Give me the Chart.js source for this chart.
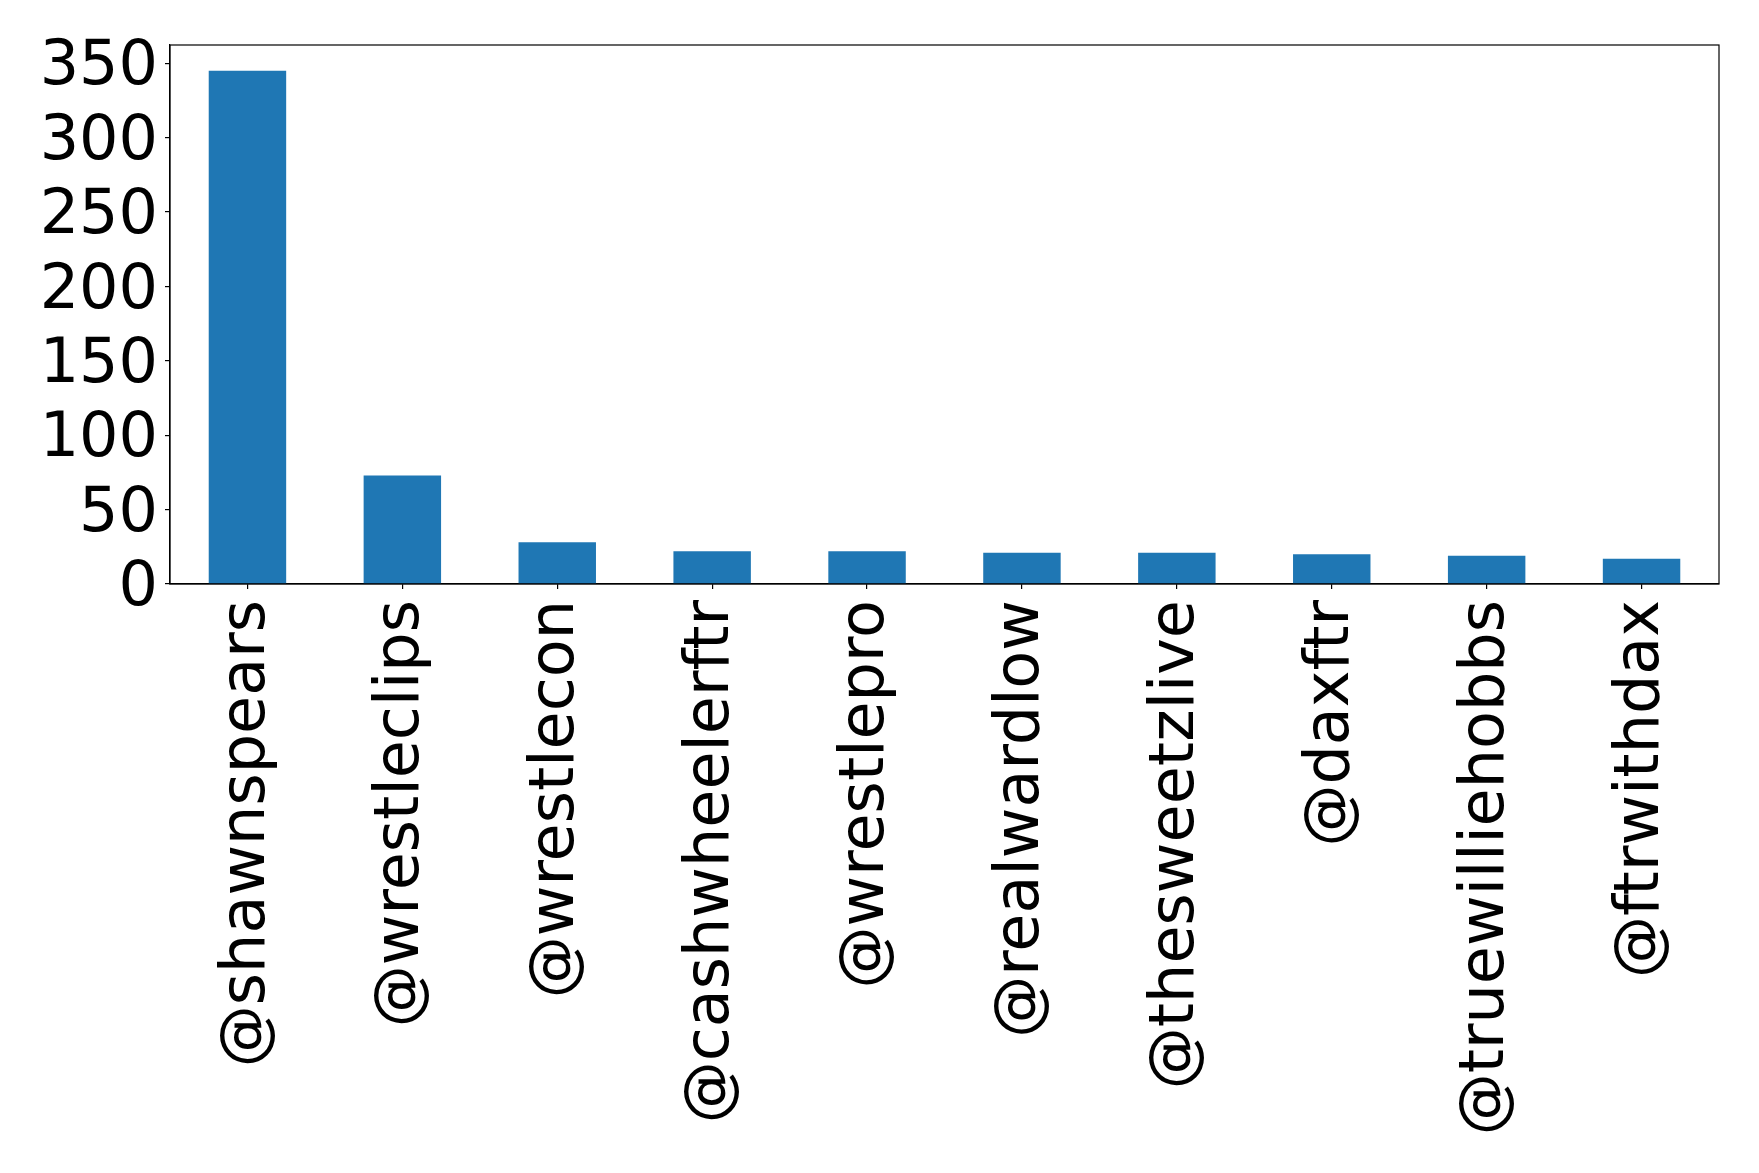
<!DOCTYPE html>
<html>
<head>
<meta charset="utf-8">
<script src="https://cdn.jsdelivr.net/npm/chart.js@4"></script>
<style>
html,body{margin:0;padding:0;background:#fff;}
#wrap{width:1759px;height:1173px;}
</style>
</head>
<body>
<div id="wrap"><canvas id="c" width="1759" height="1173"></canvas></div>
<script>
const categories = ["@shawnspears","@wrestleclips","@wrestlecon","@cashwheelerftr","@wrestlepro","@realwardlow","@thesweetzlive","@daxftr","@truewilliehobbs","@ftrwithdax"];
const counts = [345, 73, 28, 22, 22, 21, 21, 20, 19, 17];
const yTicks = [0, 50, 100, 150, 200, 250, 300, 350];

const boxPlugin = {
  id: 'box',
  afterDraw(chart) {
    const a = chart.chartArea, ctx = chart.ctx;
    ctx.save();
    ctx.strokeStyle = '#000';
    ctx.lineWidth = 1.2;
    ctx.strokeRect(a.left, a.top, a.right - a.left, a.bottom - a.top);
    ctx.restore();
  }
};

new Chart(document.getElementById('c'), {
  type: 'bar',
  data: {
    labels: categories,
    datasets: [{
      data: counts,
      backgroundColor: '#1f77b4',
      borderWidth: 0,
      barPercentage: 0.5,
      categoryPercentage: 1.0
    }]
  },
  options: {
    responsive: false,
    animation: false,
    devicePixelRatio: 1,
    layout: { padding: { top: 45, right: 40, left: 0, bottom: 0 } },
    plugins: { legend: { display: false }, tooltip: { enabled: false } },
    scales: {
      x: {
        offset: true,
        grid: { display: true, offset: false, drawOnChartArea: false, drawTicks: true, tickLength: 5, tickColor: '#000', lineWidth: 1.2 },
        border: { display: true, color: '#000', width: 1.2 },
        ticks: {
          color: '#000',
          font: { family: 'DejaVu Sans', size: 62 },
          minRotation: 90, maxRotation: 90,
          autoSkip: false,
          padding: 11
        },
        afterFit(scale) { scale.height = 1173 - 584; }
      },
      y: {
        min: 0,
        max: 362.25,
        grid: { display: true, drawOnChartArea: false, drawTicks: true, tickLength: 5, tickColor: '#000', lineWidth: 1.2 },
        border: { display: true, color: '#000', width: 1.2 },
        ticks: {
          color: '#000',
          font: { family: 'DejaVu Sans', size: 62 },
          padding: 7,
          labelOffset: 5,
          autoSkip: false
        },
        afterBuildTicks(scale) { scale.ticks = yTicks.map(v => ({ value: v })); },
        afterFit(scale) { scale.width = 170; }
      }
    }
  },
  plugins: [boxPlugin]
});
</script>
</body>
</html>
